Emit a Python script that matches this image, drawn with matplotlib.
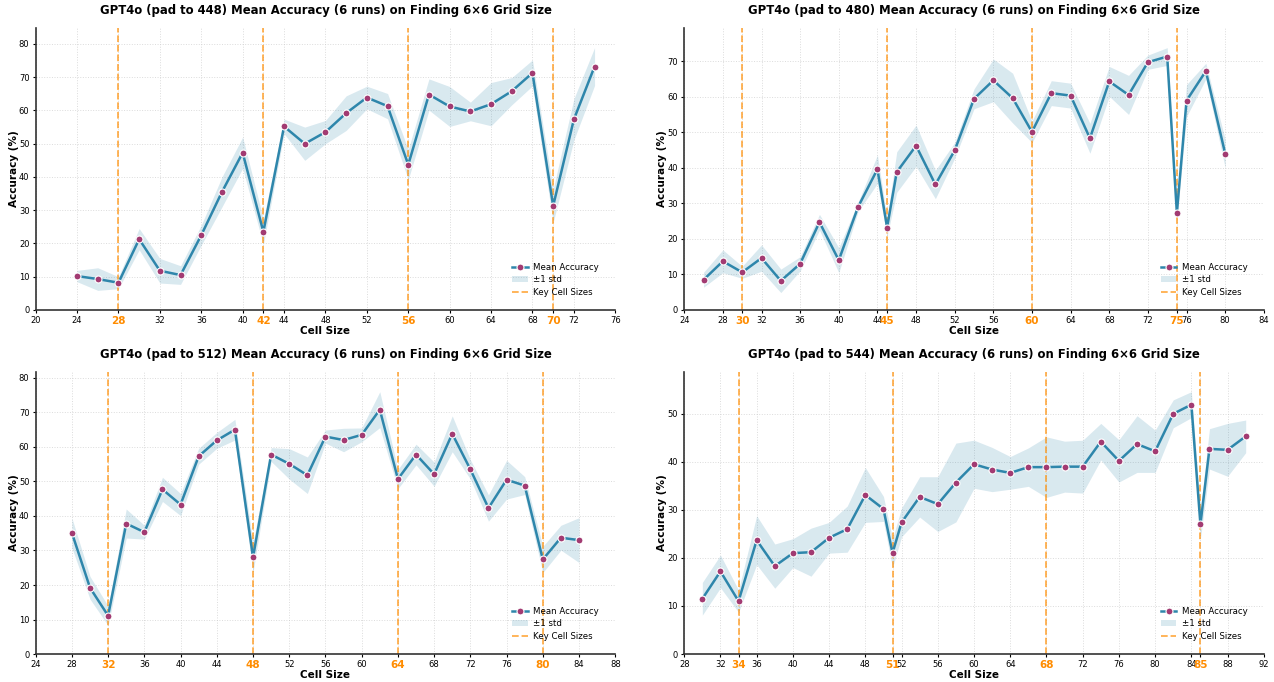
import matplotlib
matplotlib.use("Agg")
import matplotlib.pyplot as plt
import numpy as np

# Mean accuracy and std per cell size, one block per padding setting.
pad_sizes = [448, 480, 512, 544]

cells_448 = [24, 26, 28, 30, 32, 34, 36, 38, 40, 42, 44, 46, 48, 50, 52, 54,
             56, 58, 60, 62, 64, 66, 68, 70, 72, 74]
mean_448 = [10.2, 9.3, 8.2, 21.3, 11.8, 10.5, 22.5, 35.5, 47.3, 23.5, 55.2,
            50.0, 53.5, 59.2, 63.9, 61.3, 43.7, 64.8, 61.2, 59.7, 61.9, 65.8,
            71.3, 31.3, 57.3, 73.2]
std_448 = [1.7, 3.4, 1.8, 3.2, 3.7, 2.8, 3.0, 4.5, 4.7, 3.8, 2.2, 5.0, 3.5,
           5.2, 3.4, 3.8, 4.5, 4.7, 6.0, 2.8, 6.5, 4.1, 3.9, 5.0, 6.2, 5.7]
key_448 = [28, 42, 56, 70]

cells_480 = [26, 28, 30, 32, 34, 36, 38, 40, 42, 44, 45, 46, 48, 50, 52, 54,
             56, 58, 60, 62, 64, 66, 68, 70, 72, 74, 75, 76, 78, 80]
mean_480 = [8.5, 13.7, 10.6, 14.6, 8.2, 13.0, 24.7, 14.0, 29.0, 39.6, 23.2,
            38.8, 46.2, 35.3, 44.9, 59.4, 64.6, 59.6, 50.1, 61.0, 60.3, 48.3,
            64.3, 60.5, 69.7, 71.3, 27.3, 58.9, 67.2, 44.0]
std_480 = [2.1, 3.2, 1.7, 3.7, 3.3, 2.0, 2.2, 3.5, 1.3, 4.0, 2.5, 5.7, 5.8,
           4.0, 2.2, 2.8, 6.0, 7.0, 3.0, 3.5, 3.5, 4.2, 4.2, 5.5, 2.0, 2.5,
           2.2, 4.5, 2.2, 4.0]
key_480 = [30, 45, 60, 75]

cells_512 = [28, 30, 32, 34, 36, 38, 40, 42, 44, 46, 48, 50, 52, 54, 56, 58,
             60, 62, 64, 66, 68, 70, 72, 74, 76, 78, 80, 82, 84]
mean_512 = [35.1, 19.2, 11.1, 37.8, 35.3, 47.7, 43.3, 57.3, 61.9, 65.0, 28.0,
            57.8, 55.1, 51.8, 63.0, 62.0, 63.5, 70.8, 50.7, 57.8, 52.1, 63.8,
            53.5, 42.3, 50.5, 48.8, 27.4, 33.7, 33.0]
std_512 = [4.3, 3.3, 2.8, 4.2, 2.0, 3.5, 3.2, 2.3, 2.3, 3.0, 4.3, 2.0, 4.4,
           5.3, 1.9, 3.4, 2.0, 5.2, 2.8, 3.0, 3.5, 5.2, 2.8, 3.8, 5.6, 2.6,
           3.8, 3.6, 6.5]
key_512 = [32, 48, 64, 80]

cells_544 = [30, 32, 34, 36, 38, 40, 42, 44, 46, 48, 50, 51, 52, 54, 56, 58,
             60, 62, 64, 66, 68, 70, 72, 74, 76, 78, 80, 82, 84, 85, 86, 88,
             90]
mean_544 = [11.5, 17.2, 11.0, 23.7, 18.3, 21.0, 21.2, 24.2, 26.0, 33.1, 30.2,
            21.0, 27.4, 32.7, 31.2, 35.7, 39.5, 38.4, 37.7, 38.9, 38.9, 39.0,
            39.0, 44.2, 40.2, 43.7, 42.2, 50.0, 51.9, 27.0, 42.7, 42.5, 45.3]
std_544 = [3.4, 3.4, 2.3, 5.1, 4.6, 3.0, 5.0, 3.2, 4.8, 5.7, 2.6, 3.0, 3.0,
           4.2, 5.7, 8.2, 5.0, 4.6, 3.4, 4.0, 6.3, 5.3, 5.5, 3.8, 4.4, 5.9,
           4.4, 2.9, 2.7, 3.0, 4.2, 5.5, 3.4]
key_544 = [34, 51, 68, 85]

xlims = [(20, 76), (24, 84), (24, 88), (28, 92)]

panels = [
    (cells_448, mean_448, std_448, key_448),
    (cells_480, mean_480, std_480, key_480),
    (cells_512, mean_512, std_512, key_512),
    (cells_544, mean_544, std_544, key_544),
]

line_color = "#2E86AB"
marker_color = "#A23B72"
key_color = "#FF8C00"

fig, axes = plt.subplots(2, 2, figsize=(12.74, 6.82), dpi=100)
fig.subplots_adjust(left=0.028, right=0.992, top=0.959, bottom=0.041,
                    wspace=0.119, hspace=0.22)

for ax, pad, (cells, mean, std, keys), (x0, x1) in zip(axes.flat, pad_sizes,
                                                       panels, xlims):
    cells = np.array(cells)
    mean = np.array(mean)
    std = np.array(std)

    ax.fill_between(cells, mean - std, mean + std, color=line_color,
                    alpha=0.18, linewidth=0, label="±1 std")
    ax.plot(cells, mean, color=line_color, linewidth=1.8, marker="o",
            markersize=5, markerfacecolor=marker_color,
            markeredgecolor="white", markeredgewidth=0.8,
            label="Mean Accuracy", zorder=3)
    for i, k in enumerate(keys):
        ax.axvline(k, color=key_color, linestyle="--", linewidth=1.3,
                   alpha=0.7, label="Key Cell Sizes" if i == 0 else None,
                   zorder=2)

    ax.set_xlim(x0, x1)
    ax.set_ylim(0, (mean + std).max() * 1.075)

    # regular ticks every 4, with the key sizes merged in
    ticks = sorted(set(range(x0, x1 + 1, 4)) | set(keys))
    ax.set_xticks(ticks)
    ax.set_xticklabels([str(t) for t in ticks])
    for lab, t in zip(ax.get_xticklabels(), ticks):
        if t in keys:
            lab.set_color(key_color)
            lab.set_fontweight("bold")
            lab.set_fontsize(7.5)
        else:
            lab.set_fontsize(6)
    ax.tick_params(axis="y", labelsize=6)
    ax.tick_params(length=2.5, width=0.8, pad=2)

    ax.grid(True, linestyle=":", linewidth=0.7, color="#cccccc", alpha=0.7)
    ax.set_axisbelow(True)
    ax.spines["top"].set_visible(False)
    ax.spines["right"].set_visible(False)
    ax.spines["left"].set_color("#333333")
    ax.spines["bottom"].set_color("#333333")
    ax.spines["left"].set_linewidth(1.2)
    ax.spines["bottom"].set_linewidth(1.2)

    ax.set_xlabel("Cell Size", fontsize=7.5, fontweight="bold", labelpad=0)
    ax.set_ylabel("Accuracy (%)", fontsize=7.5, fontweight="bold",
                  labelpad=0)
    ax.set_title(f"GPT4o (pad to {pad}) Mean Accuracy (6 runs) on Finding "
                 f"6×6 Grid Size", fontsize=8.4, fontweight="bold", pad=10)

    handles, labels = ax.get_legend_handles_labels()
    order = [labels.index(n) for n in ["Mean Accuracy", "±1 std",
                                       "Key Cell Sizes"]]
    ax.legend([handles[i] for i in order], [labels[i] for i in order],
              loc="lower right", fontsize=6.2, frameon=False,
              bbox_to_anchor=(0.985, 0.02), handlelength=1.8,
              labelspacing=0.4, handletextpad=0.6)

fig.savefig("out.png", dpi=100)
